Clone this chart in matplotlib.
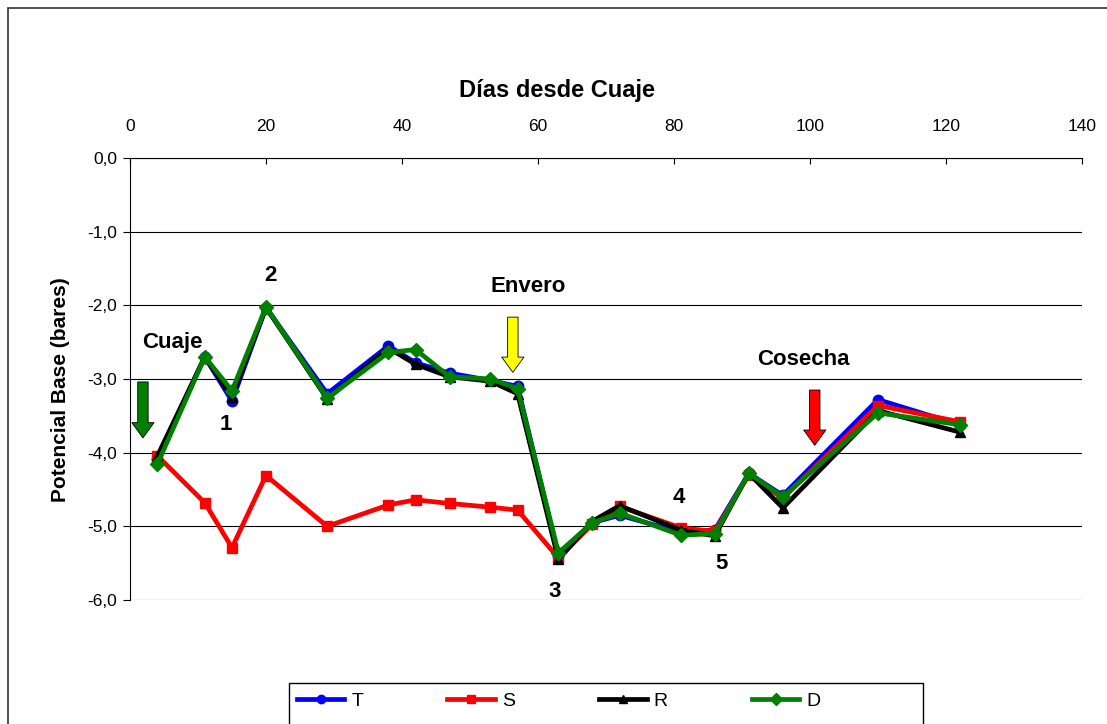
import matplotlib
matplotlib.use("Agg")
import matplotlib.pyplot as plt
from matplotlib.patches import Rectangle

plt.rcParams['font.family'] = ['Liberation Sans', 'DejaVu Sans']

days = [4, 11, 15, 20, 29, 38, 42, 47, 53, 57, 63, 68, 72, 81, 86, 91, 96, 110, 122]
T = [-4.08, -2.70, -3.30, -2.03, -3.20, -2.55, -2.78, -2.92, -3.02, -3.10, -5.40, -4.95, -4.85, -5.08, -5.05, -4.28, -4.58, -3.28, -3.62]
S = [-4.04, -4.68, -5.29, -4.31, -5.00, -4.71, -4.64, -4.69, -4.74, -4.78, -5.43, -4.97, -4.73, -5.02, -5.07, -4.30, -4.62, -3.36, -3.58]
R = [-4.05, -2.70, -3.25, -2.03, -3.27, -2.58, -2.80, -2.97, -3.03, -3.20, -5.45, -4.93, -4.72, -5.05, -5.13, -4.28, -4.75, -3.43, -3.72]
D = [-4.16, -2.70, -3.16, -2.02, -3.26, -2.64, -2.60, -2.97, -3.00, -3.13, -5.36, -4.95, -4.82, -5.12, -5.10, -4.28, -4.60, -3.46, -3.62]

series = [("T", T, "#0000ff", "o"), ("S", S, "#ff0000", "s"), ("R", R, "#000000", "^"), ("D", D, "#008000", "D")]

xticks = [0, 20, 40, 60, 80, 100, 120, 140]
yticks = [0, -1, -2, -3, -4, -5, -6]
ytick_labels = ["0,0", "-1,0", "-2,0", "-3,0", "-4,0", "-5,0", "-6,0"]

W, H = 1107, 724
fig = plt.figure(figsize=(W / 100, H / 100), dpi=100)
fig.patches.append(Rectangle((8 / W, -0.1), 1.2, 1 - 8 / H + 0.1, transform=fig.transFigure,
                             fill=False, ec='#333333', lw=1.2))
ax = fig.add_axes([130 / W, 1 - 600 / H, (1082 - 130) / W, (600 - 158) / H])

for name, vals, col, mk in series:
    ax.plot(days, vals, color=col, lw=3.4, marker=mk, ms=7.5, mfc=col, mec=col, label=name,
            solid_joinstyle='round', zorder=3)

ax.set_xlim(0, 140)
ax.set_ylim(-6, 0)
ax.xaxis.tick_top()
ax.set_xticks(xticks)
ax.set_xticklabels([str(v) for v in xticks], fontsize=12.5)
ax.set_yticks(yticks)
ax.set_yticklabels(ytick_labels, fontsize=12.5)
ax.tick_params(axis='x', direction='in', length=4, pad=17)
ax.tick_params(axis='y', direction='out', length=5, pad=4)
fig.text(557 / W, 1 - 91 / H, "Días desde Cuaje", fontsize=17, fontweight='bold',
         ha='center', va='center')
fig.text(60 / W, 1 - 390 / H, "Potencial Base (bares)", fontsize=15, fontweight='bold',
         ha='center', va='center', rotation=90)
for y in yticks:
    ax.axhline(y, color='black', lw=0.8, zorder=1)
for s in ['right', 'bottom']:
    ax.spines[s].set_visible(False)
ax.spines['top'].set_linewidth(0.8)
ax.spines['left'].set_linewidth(0.8)


def arrow(x, y0, y1, fc):
    ax.annotate('', xy=(x, y1), xytext=(x, y0), annotation_clip=False,
                arrowprops=dict(arrowstyle='simple,head_width=1.6,head_length=1.1,tail_width=0.75',
                                fc=fc, ec='black', lw=0.6, shrinkA=0, shrinkB=0), zorder=4)


arrow(1.9, -3.04, -3.80, '#008000')
arrow(56.3, -2.16, -2.91, '#ffff00')
arrow(100.7, -3.15, -3.90, '#ff0000')

kw = dict(fontsize=16, fontweight='bold', ha='center', va='center')
ax.text(6.3, -2.50, "Cuaje", **kw)
ax.text(14.1, -3.62, "1", **kw)
ax.text(20.6, -1.60, "2", **kw)
ax.text(58.5, -1.74, "Envero", **kw)
ax.text(62.5, -5.88, "3", **kw)
ax.text(80.7, -4.61, "4", **kw)
ax.text(87.0, -5.50, "5", **kw)
ax.text(99.0, -2.74, "Cosecha", **kw)

fig.patches.append(Rectangle((289 / W, -0.05), (923 - 289) / W, 1 - 683 / H + 0.05,
                             transform=fig.transFigure, fill=False, ec='black', lw=1.0))
leg = fig.legend(loc='center left', bbox_to_anchor=(289 / W, 1 - 701 / H), ncol=4,
                 fontsize=14, frameon=False, borderaxespad=0,
                 handlelength=2.45, columnspacing=4.33, handletextpad=0.35, borderpad=0.4,
                 markerscale=0.8)

fig.savefig("out.png", dpi=100)
